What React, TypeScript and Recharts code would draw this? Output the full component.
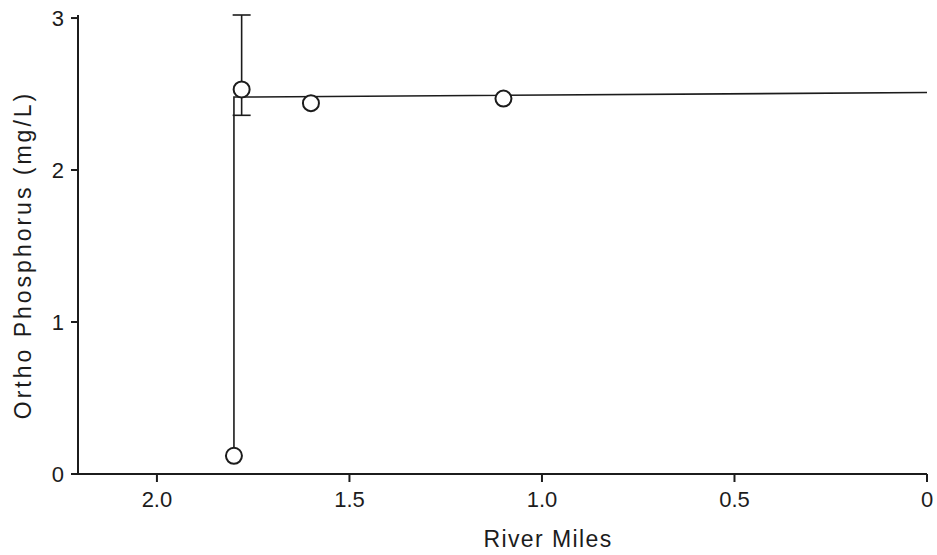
import React from 'react';
import { ComposedChart, Line, Scatter, XAxis, YAxis, ErrorBar } from 'recharts';

// observed stations (river miles, ortho-P mg/L)
const obsMiles = [1.8, 1.6, 1.1];
const obsPhos = [0.12, 2.44, 2.47];

// station with replicate error bar
const errMiles = [1.78];
const errPhos = [2.53];
const errLow = [0.17];
const errHigh = [0.49];

// model line
const modelMiles = [1.8, 1.8, 0];
const modelPhos = [0.12, 2.48, 2.51];

const xTicks = [2.0, 1.5, 1.0, 0.5, 0];
const yTicks = [0, 1, 2, 3];

const ink = '#1c1c1c';
const font = '"Liberation Sans", Arial, sans-serif';

const obsData = obsMiles.map((m, i) => ({ miles: m, phos: obsPhos[i] }));
const errData = errMiles.map((m, i) => ({ miles: m, phos: errPhos[i], err: [errLow[i], errHigh[i]] }));
const modelData = modelMiles.map((m, i) => ({ miles: m, phos: modelPhos[i] }));

const Ring = (props: any) => {
  const { cx, cy } = props;
  return <circle cx={cx} cy={cy} r={8} fill="#fff" stroke={ink} strokeWidth={2} />;
};

const fmtX = (v: number) => (v === 0 ? '0' : v.toFixed(1));

export default function App() {
  return (
    <div style={{ position: 'absolute', left: 0, top: 0, width: 937, height: 555, background: '#fff' }}>
      <ComposedChart width={937} height={555} margin={{ top: 15, right: 10, bottom: 21, left: 0 }}>
        <XAxis
          type="number"
          dataKey="miles"
          domain={[0, 2.205]}
          reversed
          ticks={xTicks}
          tickFormatter={fmtX}
          allowDataOverflow
          height={60}
          stroke={ink}
          strokeWidth={2}
          tickSize={8}
          tickMargin={9}
          tick={{ fill: ink, fontSize: 22, fontFamily: font }}
          label={{
            content: () => (
              <text x={548} y={547} textAnchor="middle" fill={ink} fontSize={23} letterSpacing={1.4} fontFamily={font}>
                River Miles
              </text>
            ),
          }}
        />
        <YAxis
          type="number"
          domain={[0, 3]}
          ticks={yTicks}
          width={78}
          stroke={ink}
          strokeWidth={2}
          tickSize={7}
          tickMargin={7}
          tick={{ fill: ink, fontSize: 22, fontFamily: font }}
          label={{
            content: () => (
              <text
                x={25}
                y={255}
                transform="rotate(-90 25 255)"
                textAnchor="middle"
                dominantBaseline="middle"
                fill={ink}
                fontSize={23}
                letterSpacing={3}
                fontFamily={font}
              >
                Ortho Phosphorus (mg/L)
              </text>
            ),
          }}
        />
        <Line
          data={modelData}
          dataKey="phos"
          type="linear"
          stroke={ink}
          strokeWidth={1.6}
          dot={false}
          isAnimationActive={false}
        />
        <Scatter data={errData} dataKey="phos" shape={<Ring />} isAnimationActive={false}>
          <ErrorBar dataKey="err" direction="y" width={9} stroke={ink} strokeWidth={1.6} isAnimationActive={false} />
        </Scatter>
        <Scatter data={obsData} dataKey="phos" shape={<Ring />} isAnimationActive={false} />
      </ComposedChart>
    </div>
  );
}
